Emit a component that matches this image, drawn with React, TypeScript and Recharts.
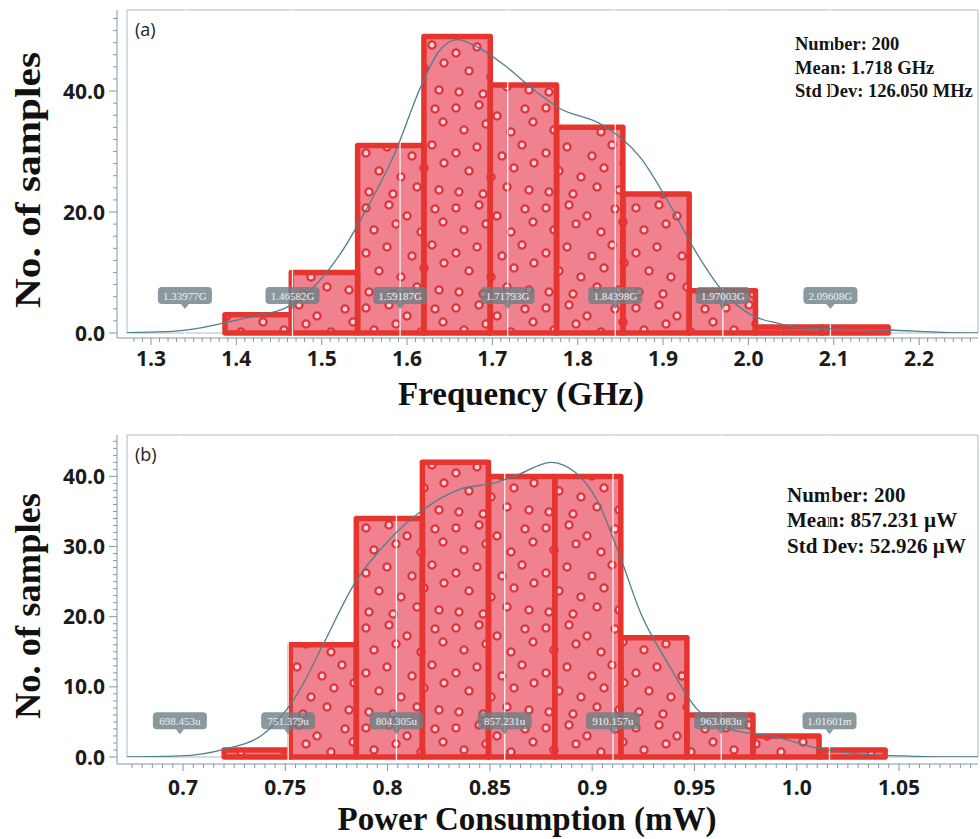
import React from 'react'
import {
  ComposedChart,
  Line,
  XAxis,
  YAxis,
  ReferenceArea,
  ReferenceLine,
  ReferenceDot,
} from 'recharts'

// ---- panel (a): oscillation frequency, GHz ----
const freqEdges = [1.3867, 1.4644, 1.5421, 1.6198, 1.6975, 1.7752, 1.8529, 1.9306, 2.0083, 2.086, 2.1637]
const freqCounts = [3, 10, 31, 49, 41, 34, 23, 7, 1, 1]
const freqFitX = [1.272, 1.3, 1.328, 1.36, 1.393, 1.425, 1.457, 1.489, 1.521, 1.553, 1.585, 1.617, 1.637, 1.659, 1.681, 1.714, 1.746, 1.778, 1.829, 1.874, 1.906, 1.938, 1.97, 2.003, 2.035, 2.067, 2.12, 2.164, 2.228, 2.269]
const freqFitY = [0.05, 0.15, 0.3, 0.9, 1.9, 2.9, 4.1, 7.4, 12.9, 20.6, 29.5, 41, 46.5, 48.5, 47.4, 44.3, 40.5, 37.2, 34.4, 28.9, 21.7, 13.5, 6.9, 3.0, 1.6, 0.8, 0.6, 0.5, 0.1, 0.02]
const freqMarkers = [1.33977, 1.46582, 1.59187, 1.71793, 1.84398, 1.97003, 2.09608]
const freqMarkerLabels = ['1.33977G', '1.46582G', '1.59187G', '1.71793G', '1.84398G', '1.97003G', '2.09608G']
const freqTickLabels = ['1.3', '1.4', '1.5', '1.6', '1.7', '1.8', '1.9', '2.0', '2.1', '2.2']
const freqYLabels = ['0.0', '20.0', '40.0']
const freqStats = ['Number: 200', 'Mean: 1.718 GHz', 'Std Dev: 126.050 MHz']

// ---- panel (b): power consumption, mW ----
const powEdges = [0.7201, 0.7524, 0.7847, 0.817, 0.8493, 0.8817, 0.914, 0.9463, 0.9786, 1.0109, 1.0432]
const powCounts = [1, 16, 34, 42, 40, 40, 17, 6, 3, 1]
const powFitX = [0.6726, 0.6985, 0.72, 0.739, 0.7577, 0.7684, 0.7846, 0.8006, 0.8167, 0.8355, 0.8515, 0.865, 0.8797, 0.8917, 0.9024, 0.9131, 0.9239, 0.9373, 0.9507, 0.9641, 0.9908, 1.0097, 1.0311, 1.0578, 1.0886]
const powFitY = [0, 0.15, 1.1, 3.2, 9.9, 16, 25.1, 30.9, 35.1, 38.2, 39, 40.4, 42, 40.6, 36.6, 29, 20.4, 13.2, 7.0, 4.2, 2.8, 1.3, 0.4, 0.1, 0]
const powMarkers = [0.698453, 0.751379, 0.804305, 0.857231, 0.910157, 0.963083, 1.01601]
const powMarkerLabels = ['698.453u', '751.379u', '804.305u', '857.231u', '910.157u', '963.083u', '1.01601m']
const powTickLabels = ['0.7', '0.75', '0.8', '0.85', '0.9', '0.95', '1.0', '1.05']
const powYLabels = ['0.0', '10.0', '20.0', '30.0', '40.0']
const powStats = ['Number: 200', 'Mean: 857.231 µW', 'Std Dev: 52.926 µW']

const AXIS = '#7f98a8'
const BOX = '#aebbc4'
const RED = '#e6342f'
const FIT = '#4f7f8c'
const SERIF = '"Liberation Serif", "Times New Roman", serif'
const SANS = '"Open Sans", "Noto Sans", sans-serif'

// decorative ring spots inside one fill tile (style only)
const RING_SPOTS = [
  [6, 8], [29, 5], [47, 16], [75, 9], [14, 30], [36, 24], [61, 32], [83, 22],
  [6, 53], [27, 47], [52, 56], [72, 45], [19, 71], [41, 77], [64, 68], [84, 63],
  [9, 92], [33, 94], [57, 87], [79, 90],
]

const range = (from: number, to: number, step: number, scale: number) => {
  const out: number[] = []
  for (let i = from; i <= to; i += step) out.push(i / scale)
  return out
}

function XTick(props: any) {
  const { x, y, payload, majors, labels, baseline } = props
  const idx = majors.findIndex((m: number) => Math.abs(m - payload.value) < 1e-6)
  const major = idx >= 0
  return (
    <g>
      <line x1={x} x2={x} y1={y} y2={y + (major ? 7 : 4)} stroke={AXIS} />
      {major && (
        <text x={x} y={y + baseline} textAnchor="middle" fontFamily={SANS} fontWeight={700}
          fontSize={21} fill="#1b1b1b">{labels[idx]}</text>
      )}
    </g>
  )
}

function YTick(props: any) {
  const { x, y, payload, majors, labels } = props
  const idx = majors.findIndex((m: number) => Math.abs(m - payload.value) < 1e-6)
  const major = idx >= 0
  return (
    <g>
      <line x1={x - (major ? 8 : 4)} x2={x} y1={y} y2={y} stroke={AXIS} />
      {major && (
        <text x={x - 12} y={y + 7.5} textAnchor="end" fontFamily={SANS} fontWeight={700}
          fontSize={21} fill="#1b1b1b">{labels[idx]}</text>
      )}
    </g>
  )
}

function Badge({ cx, cy, text }: any) {
  return (
    <g>
      <rect x={cx - 27} y={cy - 9} width={54} height={17} rx={4} fill="#6c8085" fillOpacity={0.8} />
      <path d={`M${cx - 4},${cy + 8} L${cx},${cy + 13} L${cx + 4},${cy + 8} Z`} fill="#6c8085" fillOpacity={0.8} />
      <text x={cx} y={cy + 4} textAnchor="middle" fontFamily={SERIF} fontSize={11} fill="#eef2f3">{text}</text>
    </g>
  )
}

interface PanelProps {
  height: number
  boxTop: number
  plotBottom: number
  zeroPad: number
  edges: number[]
  counts: number[]
  fitX: number[]
  fitY: number[]
  markers: number[]
  markerLabels: string[]
  xDomain: [number, number]
  xTicks: number[]
  xLabels: string[]
  xBaseline: number
  yMax: number
  yTicks: number[]
  yLabels: string[]
  badgeLevel: number
  xTitle: string
  xTitleX: number
  xTitleY: number
  yTitleY: number
  yTitleLen: number
  tag: string
  stats: string[]
  statsX: number
  statsY: number[]
  statsSize: number
}

function Panel(p: PanelProps) {
  const data = p.fitX.map((x, i) => ({ x, y: p.fitY[i] }))
  const bins = p.counts.map((c, i) => ({ x1: p.edges[i], x2: p.edges[i + 1], c }))
  const xMajors = p.xLabels.map(Number)
  const yMajors = p.yLabels.map(Number)
  const xAxisH = 40

  return (
    <ComposedChart
      width={980}
      height={p.height}
      data={data}
      margin={{ top: p.boxTop, right: 2, left: 0, bottom: p.height - p.plotBottom - xAxisH }}
    >
      <XAxis
        dataKey="x"
        type="number"
        domain={p.xDomain}
        allowDataOverflow
        ticks={p.xTicks}
        interval={0}
        padding={{ left: 10, right: 0 }}
        height={xAxisH}
        stroke={AXIS}
        tickLine={false}
        tickSize={0}
        tickMargin={0}
        tick={(t: any) => <XTick {...t} majors={xMajors} labels={p.xLabels} baseline={p.xBaseline} />}
        label={() => (
          <text x={p.xTitleX} y={p.xTitleY} textAnchor="middle" fontFamily={SERIF} fontWeight={700}
            fontSize={33} fill="#111">{p.xTitle}</text>
        )}
      />
      <YAxis
        type="number"
        domain={[0, p.yMax]}
        allowDataOverflow
        ticks={p.yTicks}
        interval={0}
        width={117}
        padding={{ top: 0, bottom: p.zeroPad }}
        stroke={AXIS}
        tickLine={false}
        tickSize={0}
        tickMargin={0}
        tick={(t: any) => <YTick {...t} majors={yMajors} labels={p.yLabels} />}
        label={() => (
          <text transform={`translate(28,${p.yTitleY}) rotate(-90)`} textAnchor="middle"
            dominantBaseline="central" fontFamily={SERIF} fontWeight={700} fontSize={35}
            textLength={p.yTitleLen} lengthAdjust="spacingAndGlyphs" fill="#111">No. of samples</text>
        )}
      />

      {/* plot frame + annotations */}
      <ReferenceArea
        x1={p.xDomain[0]} x2={p.xDomain[1]} y1={0} y2={p.yMax}
        fill="none" stroke={BOX} strokeWidth={1} ifOverflow="visible"
        label={(l: any) => {
          const vb = l.viewBox || {}
          return (
            <g>
              <text x={135} y={vb.y + 26} fontFamily={SANS} fontSize={18} fill="#222">{p.tag}</text>
              {p.stats.map((s, i) => (
                <text key={s} x={p.statsX} y={p.statsY[i]} fontFamily={SERIF} fontWeight={700}
                  fontSize={p.statsSize} fill="#141414">{s}</text>
              ))}
            </g>
          )
        }}
      />

      {/* histogram fill with sample rings */}
      {bins.map((b, i) => (
        <ReferenceArea key={`f${i}`} x1={b.x1} x2={b.x2} y1={0} y2={b.c}
          fill="url(#rings)" fillOpacity={1} stroke="none" />
      ))}

      {/* sigma marker lines */}
      {p.markers.map((m, i) => (
        <ReferenceLine key={`m${i}`} x={m} stroke="#ffffff" strokeWidth={1.3} strokeOpacity={0.9} />
      ))}

      {/* histogram outlines */}
      {bins.map((b, i) => (
        <ReferenceArea key={`o${i}`} x1={b.x1} x2={b.x2} y1={0} y2={b.c}
          fill="none" stroke={RED} strokeWidth={5.5} strokeOpacity={1} strokeLinejoin="round" />
      ))}

      <Line type="monotone" dataKey="y" stroke={FIT} strokeWidth={1.3} dot={false}
        activeDot={false} isAnimationActive={false} />

      {p.markers.map((m, i) => (
        <ReferenceDot key={`b${i}`} x={m} y={p.badgeLevel} r={1} ifOverflow="visible"
          shape={(d: any) => <Badge cx={d.cx} cy={d.cy} text={p.markerLabels[i]} />} />
      ))}
    </ComposedChart>
  )
}

export default function App() {
  return (
    <div style={{ position: 'absolute', left: 0, top: 0, width: 980, height: 839, background: '#fff' }}>
      <svg width={0} height={0} style={{ position: 'absolute' }}>
        <defs>
          <pattern id="rings" patternUnits="userSpaceOnUse" width={90} height={100}>
            <rect width={90} height={100} fill="#ef828e" />
            {RING_SPOTS.map(([cx, cy], i) => (
              <circle key={i} cx={cx} cy={cy} r={3.6} fill="#f9d6da" stroke="#e3323a" strokeWidth={2.3} />
            ))}
          </pattern>
        </defs>
      </svg>
      <div style={{ position: 'absolute', left: 0, top: 0 }}>
        <Panel
          height={420}
          boxTop={10}
          plotBottom={338}
          zeroPad={5}
          edges={freqEdges}
          counts={freqCounts}
          fitX={freqFitX}
          fitY={freqFitY}
          markers={freqMarkers}
          markerLabels={freqMarkerLabels}
          xDomain={[1.2719, 2.269]}
          xTicks={range(128, 226, 1, 100)}
          xLabels={freqTickLabels}
          xBaseline={28}
          yMax={53.4}
          yTicks={range(0, 52, 2, 1)}
          yLabels={freqYLabels}
          badgeLevel={6.1}
          xTitle="Frequency (GHz)"
          xTitleX={521}
          xTitleY={405}
          yTitleY={180}
          yTitleLen={256}
          tag="(a)"
          stats={freqStats}
          statsX={795}
          statsY={[50, 73.5, 97]}
          statsSize={18.5}
        />
      </div>
      <div style={{ position: 'absolute', left: 0, top: 420 }}>
        <Panel
          height={419}
          boxTop={15}
          plotBottom={344}
          zeroPad={7}
          edges={powEdges}
          counts={powCounts}
          fitX={powFitX}
          fitY={powFitY}
          markers={powMarkers}
          markerLabels={powMarkerLabels}
          xDomain={[0.6726, 1.0886]}
          xTicks={range(135, 217, 1, 200)}
          xLabels={powTickLabels}
          xBaseline={31}
          yMax={45.9}
          yTicks={range(0, 45, 1, 1)}
          yLabels={powYLabels}
          badgeLevel={5.1}
          xTitle="Power Consumption (mW)"
          xTitleX={527}
          xTitleY={410}
          yTitleY={186}
          yTitleLen={226}
          tag="(b)"
          stats={powStats}
          statsX={787}
          statsY={[82, 107, 133]}
          statsSize={21}
        />
      </div>
    </div>
  )
}
